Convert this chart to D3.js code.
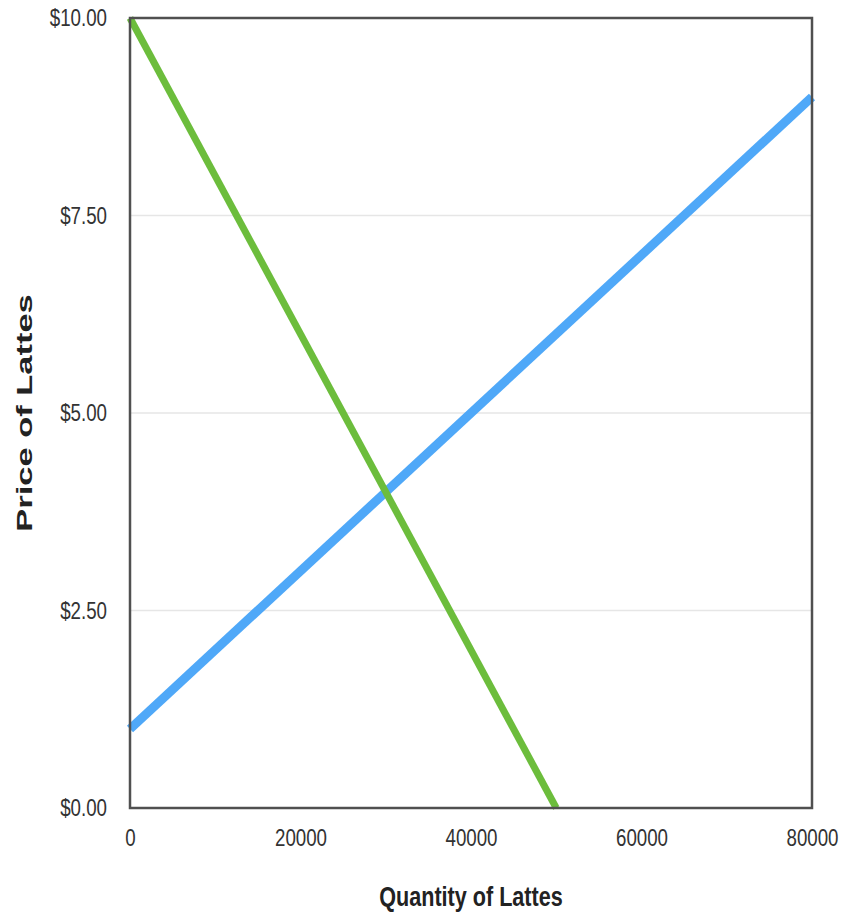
<!DOCTYPE html>
<html><head><meta charset="utf-8">
<script src="https://cdn.jsdelivr.net/npm/d3@7"></script>
<style>body{margin:0;background:#fff}</style>
</head><body>
<svg id="c" width="852" height="916"></svg>
<script>
const xTicks = [0, 20000, 40000, 60000, 80000];
const yTicks = [0, 2.5, 5, 7.5, 10];
const demand = [{q: 0, p: 10}, {q: 50000, p: 0}];
const supply = [{q: 0, p: 1}, {q: 80000, p: 9}];

const svg = d3.select("#c");
const m = {left: 130, right: 812, top: 18, bottom: 808};
const x = d3.scaleLinear().domain([0, 80000]).range([m.left, m.right]);
const y = d3.scaleLinear().domain([0, 10]).range([m.bottom, m.top]);
const font = "'Liberation Sans', Arial, sans-serif";
const sx = 0.78;

// gridlines
svg.append("g").selectAll("line").data(yTicks.filter(d => d > 0 && d < 10)).join("line")
  .attr("x1", m.left).attr("x2", m.right).attr("y1", d => y(d)).attr("y2", d => y(d))
  .attr("stroke", "#e6e6e6").attr("stroke-width", 1.5);

// axes
const ya = svg.append("g").attr("transform", `translate(${m.left},0)`)
  .call(d3.axisLeft(y).tickValues(yTicks).tickSize(0).tickPadding(23).tickFormat(d => "$" + d.toFixed(2)));
const xa = svg.append("g").attr("transform", `translate(0,${m.bottom})`)
  .call(d3.axisBottom(x).tickValues(xTicks).tickSize(0).tickPadding(21).tickFormat(d3.format("d")));
[ya, xa].forEach(a => {
  a.select(".domain").remove();
  a.selectAll("text").attr("font-family", font).attr("font-size", 24).attr("fill", "#333")
    .attr("transform", `scale(${sx},1)`);
});
ya.selectAll("text").attr("x", -23 / sx);

// lines
const line = d3.line().x(d => x(d.q)).y(d => y(d.p));
svg.append("path").datum(supply).attr("d", line).attr("fill", "none")
  .attr("stroke", "#4fa8f8").attr("stroke-width", 9);
svg.append("path").datum(demand).attr("d", line).attr("fill", "none")
  .attr("stroke", "#6cbd3c").attr("stroke-width", 7);

// frame
svg.append("rect").attr("x", m.left).attr("y", m.top).attr("width", m.right - m.left).attr("height", m.bottom - m.top)
  .attr("fill", "none").attr("stroke", "#505050").attr("stroke-width", 2.5);

// titles
svg.append("text").attr("transform", "translate(471,906) scale(0.8,1)").attr("text-anchor", "middle")
  .attr("font-family", font).attr("font-weight", "bold").attr("font-size", 27).attr("fill", "#222")
  .text("Quantity of Lattes");
svg.append("text").attr("transform", "translate(32,413) rotate(-90) scale(1.5,1)").attr("text-anchor", "middle")
  .attr("font-family", font).attr("font-weight", "bold").attr("font-size", 23).attr("fill", "#222")
  .text("Price of Lattes");
</script>
</body></html>
